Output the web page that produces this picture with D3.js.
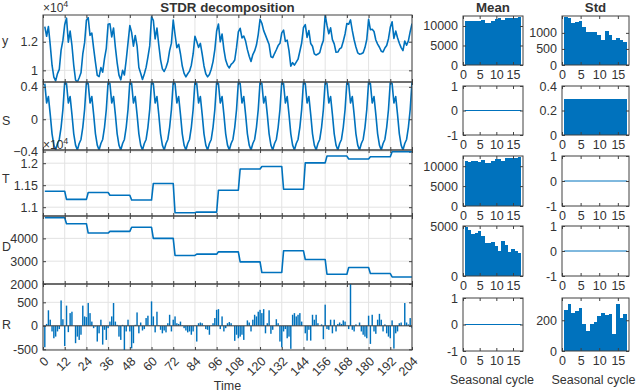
<!DOCTYPE html>
<html><head><meta charset="utf-8">
<script src="https://cdn.jsdelivr.net/npm/d3@7"></script>
<style>
body{margin:0;background:#fff}
svg text{font-family:"Liberation Sans",Arial,Helvetica,sans-serif;fill:#333}
</style>
</head><body>
<svg id="chart" width="640" height="392"></svg>
<script>
// ---------------- data ----------------
const seasonalPattern = [0.44, 0.20, 0.28, 0.06, -0.18, -0.32, -0.38, -0.30, -0.25, -0.10, 0.12, 0.46];
const trendLevels = [11362, 11178, 11333, 11273, 11162, 11540, 10875, 10889, 11384, 11867, 11926, 11407, 12007, 12162, 12096, 12147, 12260];
const dispersionLevels = [4907, 4643, 4233, 4308, 4485, 4000, 3251, 3308, 3410, 2970, 2502, 3454, 3075, 2427, 2722, 2458, 2308];
const remainder = [
 -457, 40, 330, 130, -120, -265, -230, -120, -70, 540, 140, -430,
 430, -135, 270, 300, 0, -370, -230, -300, -190, 430, 200, 185,
 485, 270, 90, -50, -15, -335, -160, 130, -400, -85, -300, -50,
 90, 200, 485, 90, 20, -230, -300, 20, -515, -120, 130, -120,
 -480, -370, 20, 285, -160, 70, -100, -70, 165, 215, 10, 520,
 200, -140, 300, 10, -85, -160, -100, -140, 55, 235, -120, 130,
 200, 55, 40, 90, 10, -50, -100, -140, -120, -190, -120, 10,
 -335, 55, 70, 55, 10, -70, -85, -190, 10, 55, 165, 340,
 355, -70, 200, -120, -50, 55, 80, 55, 0, -320, -190, -265,
 -230, -190, -300, 0, 115, 70, -120, 130, 235, 200, 300, 340,
 270, 355, -160, 55, 330, -170, -85, 0, 140, 55, -335, -457,
 -120, -70, -265, -230, -490, 235, 270, 200, 235, 270, 90, 0,
 -160, -315, -85, -315, 235, 130, 235, 55, 0, 30, -285, 450,
 -70, -85, 130, -160, 130, -120, 40, 70, 40, 115, 90, 0,
 -70, 890, -85, -120, 30, 0, 70, -120, -190, -230, -265, 215,
 -385, 235, -120, -170, 130, 255, 130, -120, 30, -160, -230, -265,
 115, -485, -160, -120, 55, 70, 0, 485, 70, 30, 165, -50
];
const stdY = [1505, 1453, 1316, 1347, 1379, 1189, 1032, 1042, 1042, 947, 789, 1063, 947, 768, 842, 779, 716];
const stdS = [0.29, 0.29, 0.29, 0.29, 0.29, 0.29, 0.29, 0.29, 0.29, 0.29, 0.29, 0.29, 0.29, 0.29, 0.29, 0.29, 0.29];
const stdR = [267, 309, 250, 259, 280, 179, 130, 179, 187, 225, 246, 236, 238, 109, 303, 215, 240];
const zeroStats = [0, 0, 0, 0, 0, 0, 0, 0, 0, 0, 0, 0, 0, 0, 0, 0, 0];
const timeTicks = [0, 12, 24, 36, 48, 60, 72, 84, 96, 108, 120, 132, 144, 156, 168, 180, 192, 204];
const cycleTicks = [0, 5, 10, 15];
const cycles = [1, 2, 3, 4, 5, 6, 7, 8, 9, 10, 11, 12, 13, 14, 15, 16, 17];

// derived series of the decomposition y = T + S*D + R
const period = seasonalPattern.length;
const time = remainder.map((_, i) => i + 1);
const S = time.map(t => seasonalPattern[(t - 1) % period]);
const T = time.map(t => trendLevels[Math.floor((t - 1) / period)]);
const D = time.map(t => dispersionLevels[Math.floor((t - 1) / period)]);
const Y = time.map((t, i) => T[i] + S[i] * D[i] + remainder[i]);

// ---------------- drawing ----------------
const BLUE = "#0072BD";
const AX = "#404040";
const FS = 12.5;
const svg = d3.select("#chart");
let clipId = 0;

function panel(o) {
  const xs = d3.scaleLinear().domain(o.xDom).range([o.x0, o.x1]);
  const ys = d3.scaleLinear().domain(o.yDom).range([o.y1, o.y0]);
  const g = svg.append("g");
  const id = "clip" + (clipId++);
  g.append("clipPath").attr("id", id).append("rect")
    .attr("x", o.x0).attr("y", o.y0).attr("width", o.x1 - o.x0).attr("height", o.y1 - o.y0);
  if (o.grid) {
    g.append("g").selectAll("line").data(o.xTicks).join("line")
      .attr("x1", d => xs(d)).attr("x2", d => xs(d)).attr("y1", o.y0).attr("y2", o.y1)
      .attr("stroke", "#e3e3e3").attr("stroke-width", 1);
    g.append("g").selectAll("line").data(o.yTicks).join("line")
      .attr("y1", d => ys(d)).attr("y2", d => ys(d)).attr("x1", o.x0).attr("x2", o.x1)
      .attr("stroke", "#e3e3e3").attr("stroke-width", 1);
  }
  const content = g.append("g").attr("clip-path", `url(#${id})`);
  o.draw(content, xs, ys);
  const tk = 3;
  const bottom = g.append("g").attr("transform", `translate(0,${o.y1})`)
    .call(d3.axisBottom(xs).tickValues(o.xTicks).tickSizeInner(-tk).tickSizeOuter(0)
      .tickPadding(5).tickFormat(o.showX ? d3.format("d") : ""));
  g.append("g").attr("transform", `translate(0,${o.y0})`)
    .call(d3.axisTop(xs).tickValues(o.xTicks).tickSizeInner(-tk).tickSizeOuter(0).tickFormat(""));
  g.append("g").attr("transform", `translate(${o.x0},0)`)
    .call(d3.axisLeft(ys).tickValues(o.yTicks).tickSizeInner(-tk).tickSizeOuter(0)
      .tickPadding(5).tickFormat(o.yFmt || (d => d)));
  g.append("g").attr("transform", `translate(${o.x1},0)`)
    .call(d3.axisRight(ys).tickValues(o.yTicks).tickSizeInner(-tk).tickSizeOuter(0).tickFormat(""));
  g.selectAll(".domain").remove();
  g.selectAll(".tick line").attr("stroke", AX);
  g.selectAll(".tick text").attr("font-size", FS).attr("fill", "#333")
    .style("font-family", '"Liberation Sans",Arial,sans-serif');
  g.append("rect").attr("x", o.x0).attr("y", o.y0).attr("width", o.x1 - o.x0).attr("height", o.y1 - o.y0)
    .attr("fill", "none").attr("stroke", AX).attr("stroke-width", 1);
  if (o.rotateX) {
    bottom.selectAll(".tick text")
      .attr("text-anchor", "end").attr("dy", 0).attr("y", 0)
      .attr("transform", "translate(6,12) rotate(-45)");
  }
  return { xs, ys, g };
}

// ---- left column ----
const LX0 = 43, LX1 = 412;
const rows = [[15, 82], [82, 150], [150, 216], [216, 284], [284, 350]];
const tDom = [0, 204];

function linePanel(r, data, yDom, yTicks, fmt) {
  return panel({
    x0: LX0, x1: LX1, y0: rows[r][0], y1: rows[r][1], xDom: tDom, yDom, yTicks, yFmt: fmt,
    xTicks: timeTicks, grid: true,
    draw: (c, xs, ys) => {
      c.append("path").datum(time)
        .attr("d", d3.line().x(t => xs(t)).y((t, i) => ys(data[i])))
        .attr("fill", "none").attr("stroke", BLUE).attr("stroke-width", 1.6)
        .attr("stroke-linejoin", "round");
    }
  });
}
const e4 = d => d3.format("~g")(d / 1e4);
linePanel(0, Y, d3.extent(Y), [10000, 12000], e4);
linePanel(1, S, d3.extent(S), [-0.4, 0, 0.4], d => d3.format("~g")(d));
linePanel(2, T, [10800, 12300], [11000, 11500, 12000], e4);
linePanel(3, D, [2000, 4980], [2000, 3000, 4000], d => d);

panel({
  x0: LX0, x1: LX1, y0: rows[4][0], y1: rows[4][1], xDom: tDom, yDom: d3.extent(remainder),
  yTicks: [-500, 0, 500], xTicks: timeTicks, grid: true, showX: true, rotateX: true,
  draw: (c, xs, ys) => {
    const bw = (xs(1) - xs(0)) * 0.8;
    c.selectAll("rect").data(time).join("rect")
      .attr("x", t => xs(t) - bw / 2).attr("width", bw)
      .attr("y", (t, i) => Math.min(ys(remainder[i]), ys(0)))
      .attr("height", (t, i) => Math.abs(ys(remainder[i]) - ys(0)))
      .attr("fill", BLUE);
    c.append("line").attr("x1", xs(0)).attr("x2", xs(204)).attr("y1", ys(0)).attr("y2", ys(0))
      .attr("stroke", AX).attr("stroke-width", 1);
  }
});

// left labels
const leftLabels = [["y", 45], ["S", 125], ["T", 183], ["D", 251], ["R", 329]];
svg.selectAll(".ylab").data(leftLabels).join("text")
  .attr("x", 2).attr("y", d => d[1]).attr("font-size", FS).text(d => d[0]);

function expLabel(x, y) {
  const t = svg.append("text").attr("x", x).attr("y", y).attr("font-size", 12);
  t.append("tspan").text("×10");
  t.append("tspan").attr("dy", -5).attr("font-size", 9).text("4");
}
expLabel(43, 12);
expLabel(43, 149);

svg.append("text").attr("x", (LX0 + LX1) / 2).attr("y", 12).attr("text-anchor", "middle")
  .attr("font-size", 13.3).attr("font-weight", "bold").attr("fill", "#111").text("STDR decomposition");
svg.append("text").attr("x", (LX0 + LX1) / 2).attr("y", 390).attr("text-anchor", "middle")
  .attr("font-size", FS).text("Time");

// ---- right columns ----
const MX = [463, 523], SX = [562, 629];
const rRows = [[16, 65], [86, 135], [156, 206], [226, 276], [298, 351]];

function barPanel(col, r, values, yDom, yTicks) {
  const X = col === 0 ? MX : SX;
  return panel({
    x0: X[0], x1: X[1], y0: rRows[r][0], y1: rRows[r][1], xDom: [0, 18], yDom, yTicks,
    xTicks: cycleTicks, showX: true, grid: false,
    draw: (c, xs, ys) => {
      c.selectAll("rect").data(cycles).join("rect")
        .attr("x", k => xs(k - 0.5)).attr("width", k => xs(k + 0.5) - xs(k - 0.5))
        .attr("y", (k, i) => Math.min(ys(values[i]), ys(0)))
        .attr("height", (k, i) => Math.abs(ys(values[i]) - ys(0)))
        .attr("fill", BLUE).attr("shape-rendering", "crispEdges");
      if (d3.max(values) === 0) {
        c.append("line").attr("x1", xs(0.5)).attr("x2", xs(17.5)).attr("y1", ys(0)).attr("y2", ys(0))
          .attr("stroke", BLUE).attr("stroke-width", 1);
      }
    }
  });
}
barPanel(0, 0, trendLevels, [0, 12560], [0, 5000, 10000]);
barPanel(1, 0, stdY, [0, 1525], [0, 500, 1000]);
barPanel(0, 1, zeroStats, [-1, 1], [-1, 0, 1]);
barPanel(1, 1, stdS, [0, 0.4], [0, 0.2, 0.4]);
barPanel(0, 2, trendLevels, [0, 12560], [0, 5000, 10000]);
barPanel(1, 2, zeroStats, [-1, 1], [-1, 0, 1]);
barPanel(0, 3, dispersionLevels, [0, 5000], [0, 5000]);
barPanel(1, 3, zeroStats, [-1, 1], [-1, 0, 1]);
barPanel(0, 4, zeroStats, [-1, 1], [-1, 0, 1]);
barPanel(1, 4, stdR, [0, 345], [0, 200]);

svg.append("text").attr("x", (MX[0] + MX[1]) / 2).attr("y", 12).attr("text-anchor", "middle")
  .attr("font-size", 13.3).attr("font-weight", "bold").attr("fill", "#111").text("Mean");
svg.append("text").attr("x", (SX[0] + SX[1]) / 2).attr("y", 12).attr("text-anchor", "middle")
  .attr("font-size", 13.3).attr("font-weight", "bold").attr("fill", "#111").text("Std");
svg.append("text").attr("x", (MX[0] + MX[1]) / 2 - 1).attr("y", 384).attr("text-anchor", "middle")
  .attr("font-size", FS).text("Seasonal cycle");
svg.append("text").attr("x", (SX[0] + SX[1]) / 2 - 2).attr("y", 384).attr("text-anchor", "middle")
  .attr("font-size", FS).text("Seasonal cycle");
</script>
</body></html>
